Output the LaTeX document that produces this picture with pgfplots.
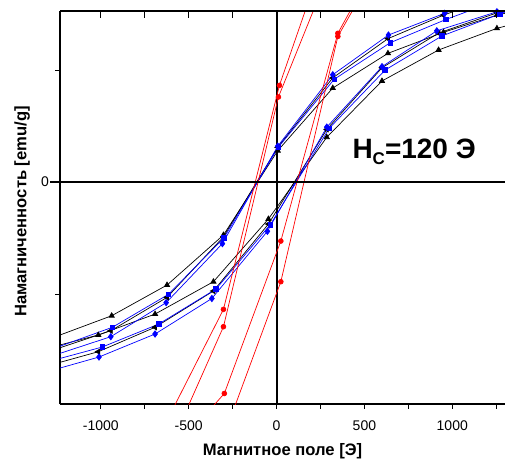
\documentclass[border=0pt]{standalone}
\usepackage{fontspec}
\setmainfont{Liberation Sans}
\usepackage{pgfplots}
\pgfplotsset{compat=1.18}

% loops: upper branch (field going down), then lower branch (field going up)
\pgfplotsset{
  frame/.style={
    at={(0,0)}, anchor=south west,
    scale only axis, width=445pt, height=393pt,
    xmin=-1232, xmax=1300, ymin=-1.982, ymax=1.527,
    axis line style={-, line width=1.2pt},
    tick style={black, line width=1pt},
    xtick={-1000,-500,0,500,1000},
    minor xtick={-750,-250,250,750,1250},
  },
  ser/.style={line width=0.7pt, mark options={solid}},
}

\begin{document}
\begin{tikzpicture}
\path[use as bounding box] (-60pt,-56pt) rectangle (445pt,404pt);

\begin{axis}[
  frame,
  axis x line*=bottom, axis y line*=left,
  tick align=outside,
  major tick length=4.5pt, minor tick length=4.5pt,
  ytick={0}, minor ytick={-1,1},
  xticklabels={-1000,-500,0,500,1000},
  yticklabels={0},
  ticklabel style={font=\fontsize{14}{14}\selectfont},
  xticklabel style={yshift=-9pt},
  yticklabel style={xshift=-3pt},
  xlabel={Магнитное поле [Э]},
  ylabel={Намагниченность [emu/g]},
  every axis x label/.style={at={(axis description cs:0.5,-0.1298)}, anchor=base,
    font=\fontsize{16.6}{16.6}\selectfont\bfseries},
  every axis y label/.style={at={(axis description cs:-0.085,0.49)}, rotate=90, anchor=center,
    font=\fontsize{16.6}{16.6}\selectfont\bfseries},
]
% vertical zero line
\fill[black] (axis cs:-5.7,-1.982) rectangle (axis cs:5.7,1.527);

% black triangles
\addplot[ser, black, mark=triangle*, mark size=3pt] coordinates {
  (1560,1.60) (1254,1.49) (950,1.337) (634,1.149) (320,0.839) (7,0.28)
  (-302,-0.473) (-623,-0.92) (-938,-1.194) (-1500,-1.523)
  (-1500,-1.564) (-1014,-1.366) (-691,-1.179) (-359,-0.89) (-46,-0.33)
  (286,0.40) (600,0.902) (922,1.179) (1254,1.372) (1560,1.50)
};
% black left triangles
\addplot[ser, black, mark=triangle*, mark size=3pt, mark options={rotate=90}] coordinates {
  (1560,1.82) (1254,1.66) (950,1.49) (634,1.28) (320,0.93) (7,0.31)
  (-302,-0.49) (-623,-1.03) (-943,-1.328) (-1500,-1.621)
  (-1500,-1.727) (-1014,-1.515) (-691,-1.297) (-359,-0.973) (-46,-0.375)
  (286,0.47) (600,1.02) (922,1.33) (1254,1.51) (1560,1.68)
};
% blue squares
\addplot[ser, blue, mark=square*, mark size=2.3pt] coordinates {
  (1560,1.78) (1254,1.62) (965,1.452) (647,1.244) (328,0.917) (10,0.31)
  (-300,-0.50) (-615,-1.003) (-934,-1.297) (-1500,-1.618)
  (-1500,-1.689) (-991,-1.473) (-670,-1.268) (-344,-0.955) (-35,-0.38)
  (300,0.48) (618,1.0) (941,1.304) (1270,1.50) (1560,1.66)
};
% blue diamonds
\addplot[ser, blue, mark=diamond*, mark size=3.2pt] coordinates {
  (1560,1.86) (1254,1.68) (956,1.506) (637,1.3125) (320,0.958) (7,0.32)
  (-308,-0.55) (-628,-1.077) (-943,-1.381) (-1500,-1.668)
  (-1500,-1.78) (-1010,-1.5625) (-691,-1.357) (-368,-1.04) (-52,-0.44)
  (286,0.49) (600,1.03) (912,1.35) (1254,1.52) (1560,1.70)
};
% red circles, two runs
\addplot[ser, red, mark=*, mark size=2.4pt] coordinates {
  (349,2.37) (16.5,0.863) (-302,-1.137) (-620,-2.12)
  (-620,-2.46) (-297,-1.888) (24.5,-0.527) (349,1.328) (620,2.10)
};
\addplot[ser, red, mark=*, mark size=2.4pt] coordinates {
  (349,2.07) (10.8,0.759) (-302,-1.292) (-620,-2.417)
  (-620,-2.9) (-300,-2.27) (24.5,-0.89) (349,1.30) (620,2.05)
};

\coordinate (zl) at (axis cs:-1232,0);
\coordinate (zr) at (axis cs:1300,0);
\node[font=\fontsize{28}{28}\selectfont\bfseries] at (axis cs:783,0.27)
  {H{\fontsize{17}{17}\selectfont\raisebox{-6pt}{C}}=120 Э};
\end{axis}

\begin{axis}[
  frame,
  axis x line*=top, axis y line=none,
  tick align=inside,
  major tick length=7pt, minor tick length=7pt,
  xticklabels={}, ytick=\empty,
]
\addplot[draw=none] coordinates {(0,0)};
\end{axis}

\draw[line width=1.8pt] ([xshift=-10pt]zl) -- (zr);
\end{tikzpicture}
\end{document}
